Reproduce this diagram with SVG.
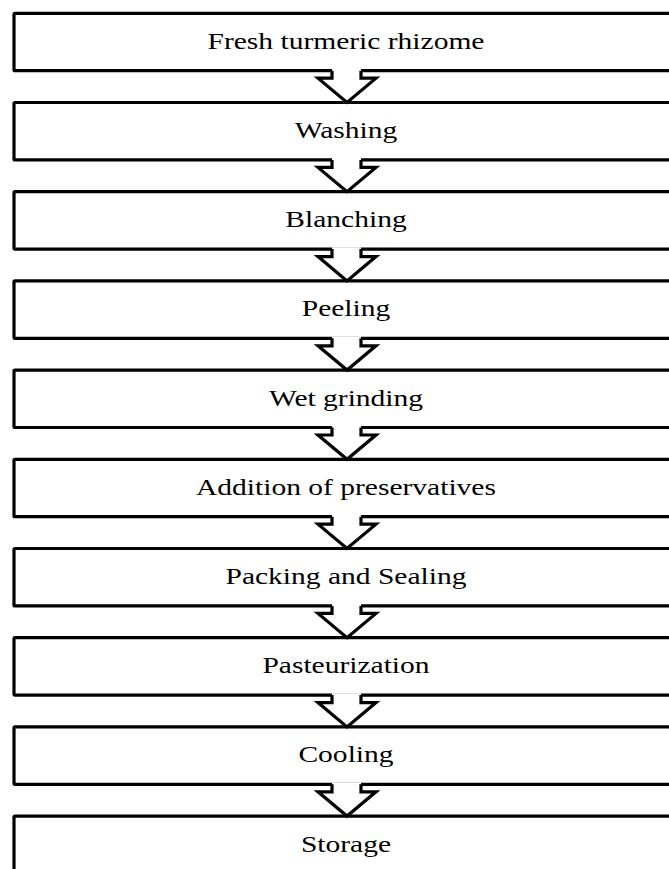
<svg xmlns="http://www.w3.org/2000/svg" xmlns:xlink="http://www.w3.org/1999/xlink" width="669" height="869" viewBox="0 0 669 869">
<defs>
<style>
.box{fill:#fff;stroke:#000;stroke-width:3.2;}
.lbl{font-family:"Liberation Serif","Times New Roman",serif;font-size:24px;fill:#000;text-anchor:middle;}
.afill{fill:#fff;stroke:none;}
.aline{fill:none;stroke:#000;stroke-width:3.2;stroke-linejoin:miter;}
</style>
<g id="arrowShape">
<polygon class="afill" points="332,55.5 332,64.9 318,64.9 347,89.2 376,64.9 361,64.9 361,55.5"/>
<path class="aline" d="M332,57.4 V64.9 H318 L347,89.2 L376,64.9 H361 V57.4"/>
</g>
</defs>
<rect width="669" height="869" fill="#fff"/>
<g id="n1"><rect class="box" x="14" y="13.3" width="700" height="57.4" rx="1"/><text class="lbl" transform="scale(1.23,1)" x="281.3" y="48.8">Fresh turmeric rhizome</text></g>
<g id="n2"><rect class="box" x="14" y="102.5" width="700" height="57.4" rx="1"/><text class="lbl" transform="scale(1.23,1)" x="281.3" y="138">Washing</text></g>
<g id="n3"><rect class="box" x="14" y="191.7" width="700" height="57.4" rx="1"/><text class="lbl" transform="scale(1.23,1)" x="281.3" y="227.2">Blanching</text></g>
<g id="n4"><rect class="box" x="14" y="280.9" width="700" height="57.4" rx="1"/><text class="lbl" transform="scale(1.23,1)" x="281.3" y="316.4">Peeling</text></g>
<g id="n5"><rect class="box" x="14" y="370.1" width="700" height="57.4" rx="1"/><text class="lbl" transform="scale(1.23,1)" x="281.3" y="405.6">Wet grinding</text></g>
<g id="n6"><rect class="box" x="14" y="459.3" width="700" height="57.4" rx="1"/><text class="lbl" transform="scale(1.23,1)" x="281.3" y="494.8">Addition of preservatives</text></g>
<g id="n7"><rect class="box" x="14" y="548.5" width="700" height="57.4" rx="1"/><text class="lbl" transform="scale(1.23,1)" x="281.3" y="584">Packing and Sealing</text></g>
<g id="n8"><rect class="box" x="14" y="637.7" width="700" height="57.4" rx="1"/><text class="lbl" transform="scale(1.23,1)" x="281.3" y="673.2">Pasteurization</text></g>
<g id="n9"><rect class="box" x="14" y="726.9" width="700" height="57.4" rx="1"/><text class="lbl" transform="scale(1.23,1)" x="281.3" y="762.4">Cooling</text></g>
<g id="n10"><rect class="box" x="14" y="816.1" width="700" height="57.4" rx="1"/><text class="lbl" transform="scale(1.23,1)" x="281.3" y="851.6">Storage</text></g>
<g id="connectors">
<use xlink:href="#arrowShape" transform="translate(0,13.3)"/>
<use xlink:href="#arrowShape" transform="translate(0,102.5)"/>
<use xlink:href="#arrowShape" transform="translate(0,191.7)"/>
<use xlink:href="#arrowShape" transform="translate(0,280.9)"/>
<use xlink:href="#arrowShape" transform="translate(0,370.1)"/>
<use xlink:href="#arrowShape" transform="translate(0,459.3)"/>
<use xlink:href="#arrowShape" transform="translate(0,548.5)"/>
<use xlink:href="#arrowShape" transform="translate(0,637.7)"/>
<use xlink:href="#arrowShape" transform="translate(0,726.9)"/>
</g>
</svg>
